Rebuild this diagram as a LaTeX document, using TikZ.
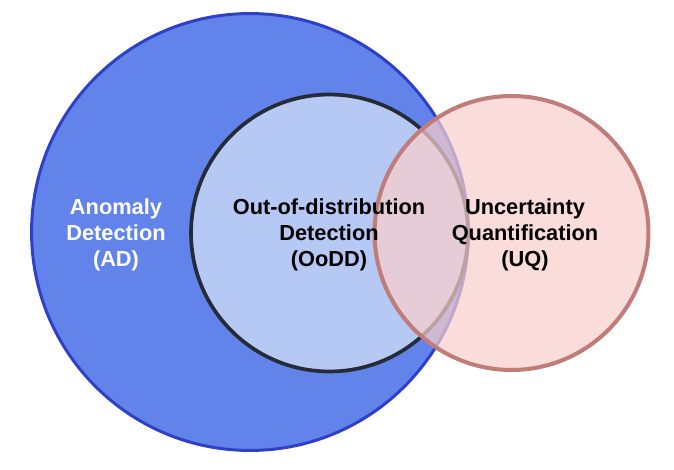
\documentclass[tikz,border=0pt]{standalone}
\usepackage{fontspec}
\setmainfont{Liberation Sans}
\usepackage{tikz}
\definecolor{adfill}{HTML}{6183EA}
\definecolor{adline}{HTML}{2F40C8}
\definecolor{oodfill}{HTML}{B6C8F4}
\definecolor{oodline}{HTML}{262B38}
\definecolor{uqfill}{HTML}{F8CECC}
\definecolor{uqline}{HTML}{C07C79}
\tikzset{
  setAD/.style={circle, draw=adline, fill=adfill, line width=1.7pt, minimum size=8.74cm, inner sep=0pt},
  setOoD/.style={circle, draw=oodline, fill=oodfill, line width=2.1pt, minimum size=5.54cm, inner sep=0pt},
  setUQ/.style={circle, draw=uqline, fill=uqfill, fill opacity=0.72, line width=2.3pt, minimum size=5.48cm, inner sep=0pt},
  setlbl/.style={align=center, inner sep=0pt, font=\bfseries\fontsize{12.4}{14.6}\selectfont},
}

\begin{document}
\begin{tikzpicture}[x=0.02cm, y=-0.02cm]
\useasboundingbox (0,0) rectangle (674,470);
% --- sets ---
\node[setAD] (ad) at (250,232) {};
\node[setOoD] (oodd) at (329.5,233) {};
\node[setUQ] (uq) at (511.5,233) {};
% --- labels ---
\node[setlbl, text=white] (adlbl) at (116,235) {Anomaly\\Detection\\(AD)};
\node[setlbl] (oodlbl) at (329,235) {Out-of-distribution\\Detection\\(OoDD)};
\node[setlbl] (uqlbl) at (525,235) {Uncertainty\\Quantification\\(UQ)};
\end{tikzpicture}
\end{document}
